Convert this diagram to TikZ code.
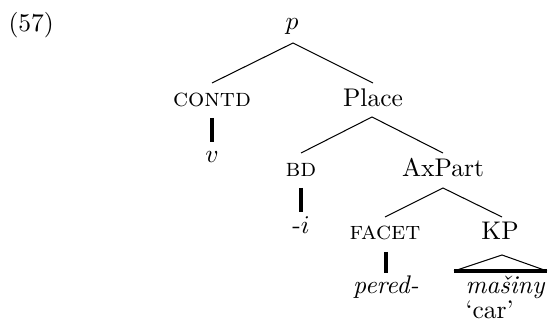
\documentclass[tikz,border=0pt]{standalone}
\usepackage{fontspec}
\begin{document}
\begin{tikzpicture}[x=0.392pt,y=-0.392pt,
  lbl/.style={anchor=base,inner sep=0pt,font=\fontsize{10}{12}\selectfont},
  branch/.style={line width=0.4pt},
  bar/.style={line width=1.2pt}]
\useasboundingbox (0,0) rectangle (548,327);
\node[lbl,anchor=base west] (ex) at (8,32) {(57)};
% nodes
\node[lbl] (p) at (292,30) {$p$};
\node[lbl] (contd) at (212,107) {\textsc{contd}};
\node[lbl] (place) at (373,107) {Place};
\node[lbl] (v) at (212,163) {$v$};
\node[lbl] (bd) at (301,177) {\textsc{bd}};
\node[lbl] (axpart) at (443,177) {AxPart};
\node[lbl] (i) at (301,234) {-$i$};
\node[lbl] (facet) at (385,240) {\textsc{facet}};
\node[lbl] (kp) at (500,240) {KP};
\node[lbl] (pered) at (386,294) {\itshape pered-};
\node[lbl,anchor=base west] (masiny) at (465,294) {\itshape mašiny};
\node[lbl,anchor=base west] (car) at (465,319) {`car'};
% connector coordinates
\coordinate (p-s) at (293,43);
\coordinate (contd-n) at (212,83);
\coordinate (place-n) at (373,83);
\coordinate (place-s) at (372,117);
\coordinate (bd-n) at (301,153);
\coordinate (axpart-n) at (443,153);
\coordinate (axpart-s) at (443,188);
\coordinate (facet-n) at (385,217);
\coordinate (kp-n) at (502,217);
\coordinate (contd-s) at (212,118);
\coordinate (v-n) at (212,142);
\coordinate (bd-s) at (301,188);
\coordinate (i-n) at (301,212);
\coordinate (facet-s) at (386,252);
\coordinate (pered-n) at (386,273);
\coordinate (kp-s) at (502,255);
\coordinate (tri-l) at (454,271);
\coordinate (tri-r) at (547,271);
% branches
\draw[branch] (contd-n) -- (p-s) -- (place-n);
\draw[branch] (bd-n) -- (place-s) -- (axpart-n);
\draw[branch] (facet-n) -- (axpart-s) -- (kp-n);
\draw[bar] (contd-s) -- (v-n);
\draw[bar] (bd-s) -- (i-n);
\draw[bar] (facet-s) -- (pered-n);
\draw[branch] (tri-l) -- (kp-s) -- (tri-r);
\draw[bar] (tri-l) -- (tri-r);
\end{tikzpicture}
\end{document}
